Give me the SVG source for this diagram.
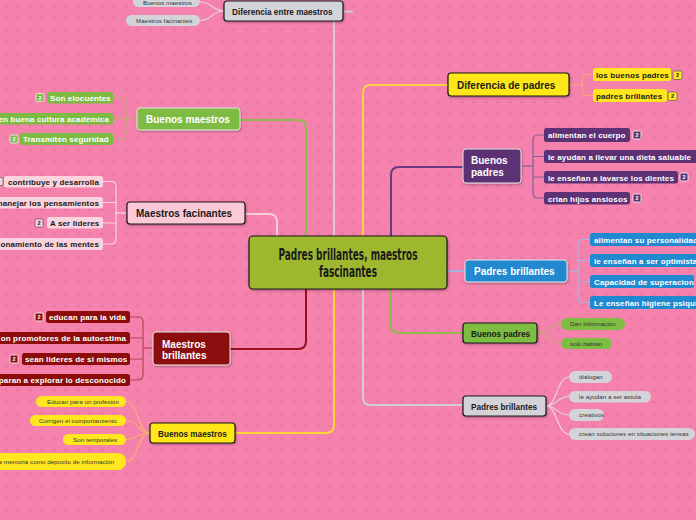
<svg xmlns="http://www.w3.org/2000/svg" width="696" height="520" viewBox="0 0 696 520">
<defs>
<pattern id="grid" width="12" height="12" patternUnits="userSpaceOnUse">
<path d="M6,4.5V7.5M4.5,6H7.5" stroke="#e36f98" stroke-width="0.7"/>
</pattern>
<filter id="sh" x="-10%" y="-20%" width="130%" height="150%">
<feDropShadow dx="0.8" dy="1.2" stdDeviation="0.8" flood-color="#000" flood-opacity="0.3"/>
</filter>
</defs>
<style>
text{font-family:"Liberation Sans",Arial,sans-serif}
.b{font-weight:bold}
.main{font-size:10px;font-weight:bold}
.mid{font-size:8.2px;font-weight:bold}
.ch{font-size:8px;font-weight:bold;letter-spacing:0.13px}
.sm{font-size:6.2px;fill:#333;letter-spacing:0.05px}
.w{fill:#fff}
.d{fill:#1a1a1a}
.dk{stroke:#1a1a1a;stroke-width:1.2}
.lt{stroke:#e6e6e6;stroke-width:1}
.badge{font-size:5.5px;font-weight:bold;text-anchor:middle;letter-spacing:0}
.con{fill:none;stroke-width:2;stroke-linecap:round}
.sub{fill:none;stroke-width:1.2}
.end{text-anchor:end}
</style>
<rect width="696" height="520" fill="#f482ac"/>
<rect width="696" height="520" fill="url(#grid)"/>

<g id="connectors">
<path class="con" d="M334,236V21" stroke="#d3cdda"/>
<path class="con" d="M343,11.5H352" stroke="#d3cdda"/>
<path class="con" d="M363,236V93Q363,85 371,85H448" stroke="#fcd145"/>
<path class="con" d="M306,236V128Q306,120 298,120H240" stroke="#8fbb4c"/>
<path class="con" d="M277,236V222Q277,214 269,214H245" stroke="#f9ccd8"/>
<path class="con" d="M391,236V175Q391,167 399,167H463" stroke="#6a3b82"/>
<path class="con" d="M447,271H465" stroke="#a9b3e0"/>
<path class="con" d="M391,289V325Q391,333 399,333H463" stroke="#8fbb4c"/>
<path class="con" d="M363,289V397Q363,405 371,405H463" stroke="#d3cdda"/>
<path class="con" d="M306,289V341Q306,349 298,349H230" stroke="#9a0f1f"/>
<path class="con" d="M334,289V425Q334,433 326,433H234" stroke="#ffd633"/>

<g stroke="#e8d0da" class="sub">
<path d="M224,11C212,11 212,2 200,2"/>
<path d="M224,11C212,11 212,20.5 200,20.5"/>
</g>
<g stroke="#c4ab74" class="sub">
<path d="M137,118.5H113"/>
<path d="M113,97.5H121Q126,97.5 126,102.5V134Q126,139 121,139H113"/>
</g>
<g stroke="#f9d6e0" class="sub">
<path d="M127,213H116"/>
<path d="M103,181.5H111Q116,181.5 116,186.5V239Q116,244 111,244H103"/>
<path d="M103,202.5H116M103,223H116"/>
</g>
<g stroke="#b44456" class="sub">
<path d="M153,348H143"/>
<path d="M130,317H138Q143,317 143,322V375Q143,380 138,380H130"/>
<path d="M130,338H143M130,359H143"/>
</g>
<g stroke="#f6b06e" class="sub">
<path d="M150,433C138,433 138,401.5 126,401.5"/>
<path d="M150,433C138,433 138,420.5 126,420.5"/>
<path d="M150,433C138,433 138,439.5 126,439.5"/>
<path d="M150,433C138,433 138,461.5 126,461.5"/>
</g>
<g stroke="#f6a870" class="sub">
<path d="M569,85H582"/>
<path d="M593,74.5H587Q582,74.5 582,79.5V90.5Q582,95.5 587,95.5H593"/>
</g>
<g stroke="#8a5c9c" class="sub">
<path d="M521,166H533"/>
<path d="M544,135H538Q533,135 533,140V193Q533,198 538,198H544"/>
<path d="M533,156.5H544M533,177H544"/>
</g>
<g stroke="#a9b3e0" class="sub">
<path d="M567,271H578"/>
<path d="M590,239.5H583Q578,239.5 578,244.5V297.5Q578,302.5 583,302.5H590"/>
<path d="M578,260.5H590M578,281.5H590"/>
</g>
<g stroke="#c4ab74" class="sub">
<path d="M537,333C549,333 549,324 561,324"/>
<path d="M537,333C549,333 549,343 561,343"/>
</g>
<g stroke="#ead3dd" class="sub">
<path d="M546,406C557,406 557,377 569,377"/>
<path d="M546,406C557,406 557,396.5 569,396.5"/>
<path d="M546,406C557,406 557,415 569,415"/>
<path d="M546,406C557,406 557,434 569,434"/>
</g>
</g>

<g id="center">
<rect x="249" y="236" width="198" height="53" rx="4" fill="#9db82f" class="dk" filter="url(#sh)"/>
<text x="348" y="260" text-anchor="middle" class="b d" style="font-family:'Liberation Sans Narrow','DejaVu Sans Condensed',sans-serif;font-size:15px" textLength="139" lengthAdjust="spacingAndGlyphs">Padres brillantes, maestros</text>
<text x="348" y="277" text-anchor="middle" class="b d" style="font-family:'Liberation Sans Narrow','DejaVu Sans Condensed',sans-serif;font-size:15px" textLength="58" lengthAdjust="spacingAndGlyphs">fascinantes</text>
</g>

<g id="dif-maestros">
<rect x="224" y="1" width="119" height="20" rx="3" fill="#d4d3d8" class="dk" filter="url(#sh)"/>
<text x="232" y="14.5" class="mid d">Diferencia entre maestros</text>
<rect x="133" y="-4" width="67" height="11" rx="5.5" fill="#d4d3d8"/>
<text x="143" y="5" class="sm">Buenos maestros</text>
<rect x="126" y="15" width="74" height="11" rx="5.5" fill="#d4d3d8"/>
<text x="136" y="23" class="sm">Maestros facinantes</text>
</g>

<g id="buenos-maestros-verde">
<rect x="137" y="108" width="103" height="22" rx="3" fill="#7dbb42" class="lt" filter="url(#sh)"/>
<text x="146" y="122.5" class="main w">Buenos maestros</text>
<rect x="47" y="92" width="66" height="11.5" rx="2.5" fill="#7dbb42"/>
<text x="50" y="100.5" class="ch w">Son elocuentes</text>
<rect x="36" y="93.5" width="8" height="8" rx="1.5" fill="#7dbb42" class="lt"/>
<text x="40" y="99.5" class="badge w">2</text>
<rect x="-5" y="113" width="118" height="11.5" rx="2.5" fill="#7dbb42"/>
<text x="109" y="121.5" class="ch w end">en buena cultura académica</text>
<rect x="20" y="133" width="93" height="12" rx="2.5" fill="#7dbb42"/>
<text x="23" y="142" class="ch w">Transmiten seguridad</text>
<rect x="10" y="135" width="8" height="8" rx="1.5" fill="#7dbb42" class="lt"/>
<text x="14" y="141" class="badge w">2</text>
</g>

<g id="maestros-facinantes">
<rect x="127" y="202" width="118" height="22" rx="3" fill="#fcc9d6" class="dk" filter="url(#sh)"/>
<text x="136" y="216.5" class="main d">Maestros facinantes</text>
<rect x="4" y="176" width="99" height="11.5" rx="2.5" fill="#fbd3de"/>
<text x="8" y="184.5" class="ch d">contribuye y desarrolla</text>
<rect x="-4" y="177.5" width="7" height="8" rx="1.5" fill="#fbd3de" stroke="#555" stroke-width="0.7"/>
<rect x="-5" y="197" width="108" height="11.5" rx="2.5" fill="#fbd3de"/>
<text x="99" y="205.5" class="ch d end">manejar los pensamientos</text>
<rect x="47" y="217" width="56" height="11.5" rx="2.5" fill="#fbd3de"/>
<text x="50" y="225.5" class="ch d">A ser lideres</text>
<rect x="35" y="219" width="8" height="8" rx="1.5" fill="#fbd3de" stroke="#555" stroke-width="0.7"/>
<text x="39" y="225" class="badge d">2</text>
<rect x="-5" y="238" width="108" height="12" rx="2.5" fill="#fbd3de"/>
<text x="99" y="247" class="ch d end">onamiento de las mentes</text>
</g>

<g id="maestros-brillantes">
<rect x="153" y="332" width="77" height="33" rx="3" fill="#8c0c0c" class="lt" filter="url(#sh)"/>
<text x="162" y="347.5" class="main w">Maestros</text>
<text x="162" y="359" class="main w">brillantes</text>
<rect x="46" y="311" width="84" height="12" rx="2.5" fill="#8c0c0c"/>
<text x="49" y="320" class="ch w">educan para la vida</text>
<rect x="35" y="313" width="8" height="8" rx="1.5" fill="#8c0c0c" class="lt"/>
<text x="39" y="319" class="badge w">2</text>
<rect x="-5" y="332" width="135" height="12" rx="2.5" fill="#8c0c0c"/>
<text x="126" y="341" class="ch w end">on promotores de la autoestima</text>
<rect x="22" y="353" width="108" height="12" rx="2.5" fill="#8c0c0c"/>
<text x="25" y="362" class="ch w">sean lideres de si mismos</text>
<rect x="10" y="355" width="8" height="8" rx="1.5" fill="#8c0c0c" class="lt"/>
<text x="14" y="361" class="badge w">2</text>
<rect x="-5" y="374" width="135" height="12" rx="2.5" fill="#8c0c0c"/>
<text x="126" y="383" class="ch w end">paran a explorar lo desconocido</text>
</g>

<g id="buenos-maestros-amarillo">
<rect x="150" y="423" width="85" height="20" rx="3" fill="#ffe619" class="dk" filter="url(#sh)"/>
<text x="158" y="436.5" class="mid d">Buenos maestros</text>
<rect x="36" y="396" width="90" height="11" rx="5.5" fill="#ffe61e"/>
<text x="47" y="403.7" class="sm">Educan para un profesión</text>
<rect x="30" y="415" width="96" height="11" rx="5.5" fill="#ffe61e"/>
<text x="39" y="422.7" class="sm">Corrigen el comportamiento</text>
<rect x="63" y="434" width="63" height="11" rx="5.5" fill="#ffe61e"/>
<text x="73" y="441.7" class="sm">Son temporales</text>
<rect x="-10" y="453" width="136" height="17" rx="8" fill="#ffe61e"/>
<text x="114" y="464" class="sm end">a memoria como deposito de información</text>
</g>

<g id="diferencia-padres">
<rect x="448" y="73" width="121" height="23" rx="3" fill="#ffe619" class="dk" filter="url(#sh)"/>
<text x="457" y="88.5" class="main d">Diferencia de padres</text>
<rect x="593" y="68" width="78" height="13" rx="2.5" fill="#ffe61e"/>
<text x="596" y="77.5" class="ch d">los buenos padres</text>
<rect x="673" y="71" width="9" height="8.5" rx="1.5" fill="#ffe61e" stroke="#555" stroke-width="0.7"/>
<text x="677.5" y="77.3" class="badge d">2</text>
<rect x="593" y="89" width="74" height="13" rx="2.5" fill="#ffe61e"/>
<text x="596" y="98.5" class="ch d">padres brillantes</text>
<rect x="668" y="92" width="9" height="8.5" rx="1.5" fill="#ffe61e" stroke="#555" stroke-width="0.7"/>
<text x="672.5" y="98.3" class="badge d">2</text>
</g>

<g id="buenos-padres-morado">
<rect x="463" y="149" width="58" height="34" rx="3" fill="#5d3174" class="lt" filter="url(#sh)"/>
<text x="471" y="164" class="main w">Buenos</text>
<text x="471" y="176" class="main w">padres</text>
<rect x="544" y="128" width="86" height="14" rx="2.5" fill="#5d3174"/>
<text x="548" y="137.5" class="ch w">alimentan el cuerpo</text>
<rect x="633" y="131" width="8" height="8" rx="1.5" fill="#5d3174" class="lt"/>
<text x="637" y="137" class="badge w">2</text>
<rect x="544" y="150" width="160" height="13" rx="2.5" fill="#5d3174"/>
<text x="548" y="159.5" class="ch w">le ayudan a llevar una dieta saluable</text>
<rect x="544" y="171" width="134" height="12.5" rx="2.5" fill="#5d3174"/>
<text x="548" y="180.5" class="ch w">le enseñan a lavarse los dientes</text>
<rect x="680" y="173" width="8" height="8" rx="1.5" fill="#5d3174" class="lt"/>
<text x="684" y="179" class="badge w">2</text>
<rect x="544" y="192" width="86" height="12.5" rx="2.5" fill="#5d3174"/>
<text x="548" y="201.5" class="ch w">crian hijos ansiosos</text>
<rect x="633" y="194" width="8" height="8" rx="1.5" fill="#5d3174" class="lt"/>
<text x="637" y="200" class="badge w">2</text>
</g>

<g id="padres-brillantes-azul">
<rect x="465" y="260" width="102" height="22" rx="3" fill="#2189d0" class="lt" filter="url(#sh)"/>
<text x="474" y="274.5" class="main w">Padres brillantes</text>
<rect x="590" y="233" width="115" height="13" rx="2.5" fill="#2189d0"/>
<text x="594" y="242.5" class="ch w">alimentan su personalidad</text>
<rect x="590" y="254" width="115" height="13" rx="2.5" fill="#2189d0"/>
<text x="594" y="263.5" class="ch w">le enseñan a ser optimista</text>
<rect x="590" y="275" width="104" height="13" rx="2.5" fill="#2189d0"/>
<text x="594" y="284.5" class="ch w">Capacidad de superacion</text>
<rect x="590" y="296" width="115" height="13" rx="2.5" fill="#2189d0"/>
<text x="594" y="305.5" class="ch w">Le enseñan higiene psiqui</text>
</g>

<g id="buenos-padres-verde">
<rect x="463" y="323" width="74" height="20" rx="3" fill="#7dbd42" class="dk" filter="url(#sh)"/>
<text x="471" y="336.5" class="mid d">Buenos padres</text>
<rect x="561" y="318" width="64" height="12" rx="6" fill="#7dbd42"/>
<text x="570" y="326.3" class="sm">Dan informacion</text>
<rect x="561" y="338" width="51" height="11" rx="5.5" fill="#7dbd42"/>
<text x="570" y="345.8" class="sm">solo hablan</text>
</g>

<g id="padres-brillantes-gris">
<rect x="463" y="396" width="83" height="20" rx="3" fill="#d4d3d8" class="dk" filter="url(#sh)"/>
<text x="471" y="409.5" class="mid d">Padres brillantes</text>
<rect x="569" y="371" width="43" height="12" rx="6" fill="#d4d3d8"/>
<text x="579" y="379.3" class="sm">dialogan</text>
<rect x="569" y="391" width="82" height="11.5" rx="5.75" fill="#d4d3d8"/>
<text x="579" y="399" class="sm">le ayudan a ser astuta</text>
<rect x="569" y="409" width="35" height="12" rx="6" fill="#d4d3d8"/>
<text x="579" y="417.3" class="sm">creativos</text>
<rect x="569" y="428" width="126" height="12" rx="6" fill="#d4d3d8"/>
<text x="579" y="436.3" class="sm">crean soluciones en situaciones tensas</text>
</g>
</svg>
